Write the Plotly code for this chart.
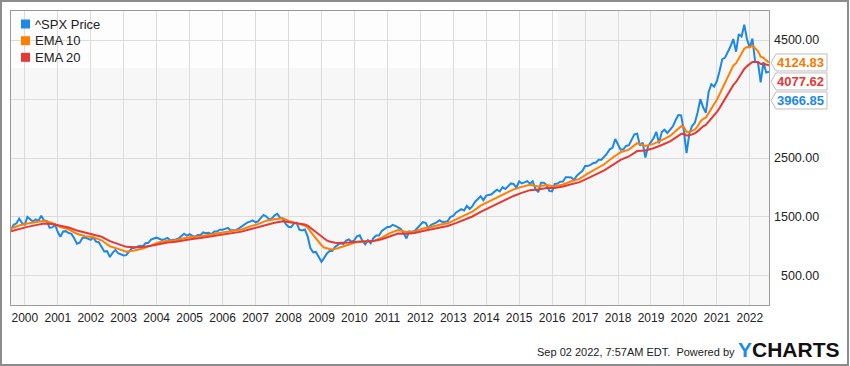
import pandas as pd
import plotly.graph_objects as go

# ---------------- data ----------------
price_start = "1999-09-01"   # first monthly point
price = [
    1282.71, 1362.93, 1388.91, 1469.25,
    1394.46, 1366.42, 1498.58, 1452.43, 1420.60, 1454.60, 1430.83, 1517.68, 1436.51, 1429.40, 1314.95, 1320.28,
    1366.01, 1239.94, 1160.33, 1249.46, 1255.82, 1224.42, 1211.23, 1133.58, 1040.94, 1059.78, 1139.45, 1148.08,
    1130.20, 1106.73, 1147.39, 1076.92, 1067.14, 989.82, 911.62, 916.07, 815.28, 885.76, 936.31, 879.82,
    855.70, 841.15, 848.18, 916.92, 963.59, 974.50, 990.31, 1008.01, 995.97, 1050.71, 1058.20, 1111.92,
    1131.13, 1144.94, 1126.21, 1107.30, 1120.68, 1140.84, 1101.72, 1104.24, 1114.58, 1130.20, 1173.82, 1211.92,
    1181.27, 1203.60, 1180.59, 1156.85, 1191.50, 1191.33, 1234.18, 1220.33, 1228.81, 1207.01, 1249.48, 1248.29,
    1280.08, 1280.66, 1294.83, 1310.61, 1270.09, 1270.20, 1276.66, 1303.82, 1335.85, 1377.94, 1400.63, 1418.30,
    1438.24, 1406.82, 1420.86, 1482.37, 1530.62, 1503.35, 1455.27, 1473.99, 1526.75, 1549.38, 1481.14, 1468.36,
    1378.55, 1330.63, 1322.70, 1385.59, 1400.38, 1280.00, 1267.38, 1282.83, 1166.36, 968.75, 896.24, 903.25,
    825.88, 735.09, 797.87, 872.81, 919.14, 919.32, 987.48, 1020.62, 1057.08, 1036.19, 1095.63, 1115.10,
    1073.87, 1104.49, 1169.43, 1186.69, 1089.41, 1030.71, 1101.60, 1049.33, 1141.20, 1183.26, 1180.55, 1257.64,
    1286.12, 1327.22, 1325.83, 1363.61, 1345.20, 1320.64, 1292.28, 1218.89, 1131.42, 1253.30, 1246.96, 1257.60,
    1312.41, 1365.68, 1408.47, 1397.91, 1310.33, 1362.16, 1379.32, 1406.58, 1440.67, 1412.16, 1416.18, 1426.19,
    1498.11, 1514.68, 1569.19, 1597.57, 1630.74, 1606.28, 1685.73, 1632.97, 1681.55, 1756.54, 1805.81, 1848.36,
    1782.59, 1859.45, 1872.34, 1883.95, 1923.57, 1960.23, 1930.67, 2003.37, 1972.29, 2018.05, 2067.56, 2058.90,
    1994.99, 2104.50, 2067.89, 2085.51, 2107.39, 2063.11, 2103.84, 1972.18, 1920.03, 2079.36, 2080.41, 2043.94,
    1940.24, 1932.23, 2059.74, 2065.30, 2096.95, 2098.86, 2173.60, 2170.95, 2168.27, 2126.15, 2198.81, 2238.83,
    2278.87, 2363.64, 2362.72, 2384.20, 2411.80, 2423.41, 2470.30, 2471.65, 2519.36, 2575.26, 2647.58, 2673.61,
    2823.81, 2713.83, 2640.87, 2648.05, 2705.27, 2718.37, 2816.29, 2901.52, 2913.98, 2711.74, 2760.17, 2506.85,
    2704.10, 2784.49, 2834.40, 2945.83, 2752.06, 2941.76, 2980.38, 2926.46, 2976.74, 3037.56, 3140.98, 3230.78,
    3225.52, 2954.22, 2584.59, 2912.43, 3044.31, 3100.29, 3271.12, 3500.31, 3363.00, 3269.96, 3621.63, 3756.07,
    3714.24, 3811.15, 3972.89, 4181.17, 4204.11, 4297.50, 4395.26, 4522.68, 4307.54, 4605.38, 4567.00, 4766.18,
    4515.55, 4373.94, 4530.41, 4131.93, 4132.15, 3785.38, 4130.29, 3955.00, 3966.85,
]

ema_dates = [
    "1999-09", "1999-12", "2000-03", "2000-06", "2000-09", "2000-12", "2001-03", "2001-06", "2001-09", "2001-12",
    "2002-03", "2002-06", "2002-09", "2002-12", "2003-03", "2003-06", "2003-09", "2003-12", "2004-03", "2004-06",
    "2004-09", "2004-12", "2005-03", "2005-06", "2005-09", "2005-12", "2006-03", "2006-06", "2006-09", "2006-12",
    "2007-03", "2007-06", "2007-09", "2007-12", "2008-03", "2008-06",
    "2008-07", "2008-08", "2008-09", "2008-10", "2008-11", "2008-12", "2009-01", "2009-02", "2009-03", "2009-04",
    "2009-05", "2009-06", "2009-07", "2009-08", "2009-09",
    "2009-12", "2010-03", "2010-06", "2010-09", "2010-12", "2011-03", "2011-06", "2011-09", "2011-12",
    "2012-03", "2012-06", "2012-09", "2012-12", "2013-03", "2013-06", "2013-09", "2013-12", "2014-03", "2014-06",
    "2014-09", "2014-12", "2015-03", "2015-06", "2015-09", "2015-12", "2016-03", "2016-06", "2016-09", "2016-12",
    "2017-03", "2017-06", "2017-09", "2017-12", "2018-03", "2018-06", "2018-09", "2018-12", "2019-03", "2019-06",
    "2019-09",
    "2019-12", "2020-01", "2020-02", "2020-03", "2020-04", "2020-05", "2020-06", "2020-07", "2020-08", "2020-09",
    "2020-10", "2020-11", "2020-12", "2021-01", "2021-02", "2021-03", "2021-04", "2021-05", "2021-06", "2021-07",
    "2021-08", "2021-09", "2021-10", "2021-11", "2021-12", "2022-01", "2022-02", "2022-03", "2022-04", "2022-05",
    "2022-06", "2022-07", "2022-08", "2022-09",
]
ema10 = [
    1300.0, 1351.7, 1385.7, 1411.6, 1434.4, 1395.2, 1325.8, 1287.5, 1210.6, 1170.2,
    1151.6, 1100.6, 998.3, 953.9, 906.0, 928.5, 960.1, 1013.3, 1067.7, 1093.7,
    1100.1, 1135.0, 1159.2, 1169.6, 1195.7, 1214.6, 1247.0, 1262.4, 1283.7, 1337.1,
    1375.0, 1434.6, 1459.7, 1475.3, 1414.4, 1384.4,
    1363.1, 1348.5, 1315.4, 1252.4, 1187.6, 1135.9, 1079.5, 1016.9, 977.1, 958.1,
    951.0, 945.2, 952.9, 965.2, 981.9,
    1029.7, 1071.5, 1080.8, 1089.6, 1145.2, 1222.3, 1275.8, 1243.0, 1247.6,
    1302.3, 1325.9, 1365.4, 1389.5, 1453.9, 1525.5, 1589.5, 1689.1, 1759.0, 1835.3,
    1896.7, 1966.4, 2009.0, 2042.8, 2017.4, 2039.0, 2014.9, 2048.5, 2103.7, 2145.2,
    2233.7, 2312.9, 2393.2, 2504.3, 2599.2, 2642.5, 2751.6, 2703.7, 2739.4, 2803.2,
    2874.6,
    2998.9, 3040.1, 3024.5, 2944.5, 2938.7, 2957.9, 2983.8, 3036.0, 3120.4, 3164.5,
    3183.7, 3263.3, 3352.9, 3418.6, 3490.0, 3577.8, 3687.5, 3781.4, 3875.2, 3969.8,
    4070.3, 4113.4, 4202.8, 4269.0, 4359.4, 4387.8, 4385.3, 4411.7, 4360.8, 4319.2,
    4222.2, 4205.5, 4160.0, 4124.83,
]
ema20 = [
    1255.0, 1295.4, 1328.5, 1358.1, 1385.1, 1376.3, 1343.2, 1316.9, 1266.6, 1228.3,
    1202.4, 1160.7, 1087.3, 1038.9, 989.4, 980.2, 984.8, 1008.4, 1040.9, 1062.4,
    1074.0, 1100.1, 1123.1, 1138.1, 1161.2, 1180.5, 1207.8, 1227.0, 1248.0, 1287.4,
    1322.1, 1369.7, 1400.3, 1425.3, 1403.8, 1390.3,
    1378.6, 1369.5, 1350.2, 1313.9, 1274.1, 1238.8, 1199.5, 1155.3, 1121.3, 1097.6,
    1080.6, 1065.2, 1057.8, 1054.3, 1054.6,
    1062.4, 1077.1, 1082.4, 1086.5, 1118.6, 1169.4, 1214.2, 1212.8, 1223.2,
    1259.9, 1284.7, 1317.4, 1343.6, 1391.8, 1448.8, 1505.3, 1583.4, 1650.2, 1721.6,
    1786.0, 1854.4, 1907.2, 1953.1, 1963.4, 1990.2, 1987.8, 2013.9, 2054.6, 2090.1,
    2154.3, 2220.0, 2289.6, 2379.3, 2467.7, 2526.1, 2618.0, 2627.0, 2666.2, 2721.6,
    2783.6,
    2876.8, 2910.0, 2914.2, 2882.8, 2885.6, 2900.7, 2919.7, 2953.2, 3005.3, 3039.4,
    3061.4, 3114.7, 3175.8, 3227.1, 3282.7, 3348.4, 3427.7, 3501.6, 3577.4, 3655.3,
    3737.9, 3792.1, 3869.5, 3935.9, 4014.9, 4062.6, 4092.2, 4133.9, 4133.7, 4133.6,
    4100.4, 4103.2, 4089.1, 4077.62,
]

year_labels = list(range(2000, 2023))
ytick_vals = [500, 1500, 2500, 3500, 4500]
ytick_text = ["500.00", "1500.00", "2500.00", "", "4500.00"]

series_names = ["^SPX Price", "EMA 10", "EMA 20"]
series_colors = ["#1e88e5", "#ff8000", "#e53935"]
label_colors = ["#1e88e5", "#f57c00", "#e53935"]

# ---------------- layout constants ----------------
W_FIG, H_FIG = 850, 366
L, R, T, B = 11, 81, 11, 61
PW, PH = W_FIG - L - R, H_FIG - T - B
FONT = "Liberation Sans, Arial, Helvetica, sans-serif"


def pxx(p):
    return (p - L) / PW


def pxy(q):
    return (H_FIG - B - q) / PH


dates = pd.date_range(price_start, periods=len(price), freq="MS")
ema_x = pd.to_datetime(ema_dates, format="%Y-%m")

fig = go.Figure()
fig.add_trace(go.Scatter(x=dates, y=price, mode="lines", name=series_names[0],
                         line=dict(color=series_colors[0], width=2)))
fig.add_trace(go.Scatter(x=ema_x, y=ema10, mode="lines", name=series_names[1],
                         line=dict(color=series_colors[1], width=2)))
fig.add_trace(go.Scatter(x=ema_x, y=ema20, mode="lines", name=series_names[2],
                         line=dict(color=series_colors[2], width=2)))

fig.update_layout(
    width=W_FIG, height=H_FIG,
    margin=dict(l=L, r=R, t=T, b=B, pad=0),
    paper_bgcolor="white", plot_bgcolor="#f7f7f7",
    showlegend=False,
    font=dict(family=FONT, size=12, color="#222"),
)
fig.update_xaxes(
    type="date", range=[dates[0], dates[-1]],
    tickvals=[f"{y}-02-01" for y in year_labels], ticktext=[str(y) for y in year_labels],
    showgrid=True, gridcolor="#dcdcdc", gridwidth=1,
    showline=True, mirror=True, linecolor="#9a9a9a", linewidth=1,
    ticks="", zeroline=False, tickfont=dict(size=12, color="#222"),
    ticklabelstandoff=2,
)
fig.update_yaxes(
    range=[0, 5000], tickvals=ytick_vals, showticklabels=False,
    showgrid=True, gridcolor="#dcdcdc", gridwidth=1,
    showline=True, mirror=True, linecolor="#9a9a9a", linewidth=1, zeroline=False,
)

shapes = []
annotations = []

# outer frame
shapes.append(dict(type="rect", xref="paper", yref="paper",
                   x0=pxx(1), x1=pxx(848), y0=pxy(365), y1=pxy(1),
                   line=dict(color="#8c8c8c", width=2), fillcolor="rgba(0,0,0,0)", layer="above"))
# legend backdrop
shapes.append(dict(type="rect", xref="paper", yref="paper",
                   x0=0, x1=pxx(558), y0=pxy(68), y1=1,
                   line=dict(width=0), fillcolor="rgba(255,255,255,0.7)", layer="between"))

# custom legend
for i, (nm, col) in enumerate(zip(series_names, series_colors)):
    c = 13 + i * 16.67
    shapes.append(dict(type="rect", xref="paper", yref="paper",
                       xsizemode="pixel", ysizemode="pixel", xanchor=0, yanchor=1,
                       x0=10, x1=19, y0=-(c - 4.5), y1=-(c + 4.5),
                       line=dict(width=0), fillcolor=col, layer="above"))
    annotations.append(dict(xref="paper", yref="paper", x=0, y=1, xshift=21.5, yshift=-c,
                            xanchor="left", yanchor="middle", showarrow=False, text=nm,
                            font=dict(size=13, color="#222", family=FONT)))

# y tick labels (right aligned, right side)
for v, t in zip(ytick_vals, ytick_text):
    if t:
        annotations.append(dict(xref="paper", yref="y", x=1, y=v, xshift=52, xanchor="right",
                                yanchor="middle", showarrow=False, text=t,
                                font=dict(size=12.5, color="#222", family=FONT)))

# end-value labels, stacked in value order
last_vals = [price[-1], ema10[-1], ema20[-1]]
order = sorted(range(3), key=lambda k: -last_vals[k])
top_val = last_vals[order[0]]
for rank, k in enumerate(order):
    off = -19 * rank
    shapes.append(dict(type="path", xref="paper", yref="y",
                       xsizemode="pixel", ysizemode="pixel", xanchor=1, yanchor=top_val,
                       path=f"M 2,{off} L 7,{off + 8.5} L 58,{off + 8.5} L 58,{off - 8.5} L 7,{off - 8.5} Z",
                       line=dict(color="#bdbdbd", width=1), fillcolor="white", layer="above"))
    annotations.append(dict(xref="paper", yref="y", x=1, y=top_val, xshift=31, yshift=off,
                            xanchor="center", yanchor="middle", showarrow=False,
                            text=f"<b>{last_vals[k]:.2f}</b>",
                            font=dict(size=13, color=label_colors[k], family=FONT)))

# footer
annotations.append(dict(xref="paper", yref="paper", x=pxx(737), y=pxy(352),
                        xanchor="right", yanchor="middle", showarrow=False,
                        text="Sep 02 2022, 7:57AM EDT.&nbsp; Powered by",
                        font=dict(size=11, color="#222", family=FONT)))
annotations.append(dict(xref="paper", yref="paper", x=pxx(736), y=pxy(349),
                        xanchor="left", yanchor="middle", showarrow=False,
                        text="<b><span style='color:#1a8fe6'>Y</span>CHARTS</b>",
                        font=dict(size=21, color="#111", family=FONT)))

fig.update_layout(shapes=shapes, annotations=annotations)
fig.write_html("out.html", config={"displayModeBar": False},
               post_script="document.body.style.margin='0';document.body.style.overflow='hidden';")
